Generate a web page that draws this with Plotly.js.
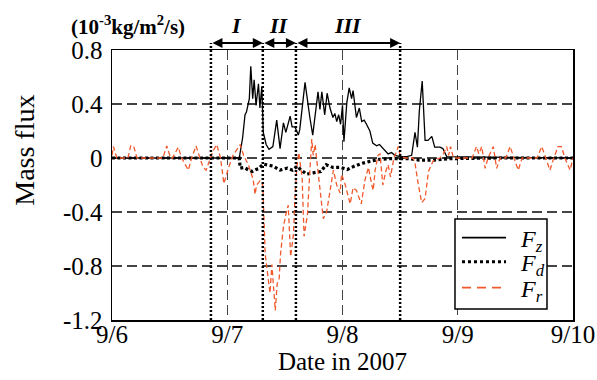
<!DOCTYPE html>
<html>
<head>
<meta charset="utf-8">
<script src="https://cdn.plot.ly/plotly-3.0.1.min.js"></script>
<style>html,body{margin:0;padding:0;background:#fff;}#chart{width:597px;height:380px;}</style>
</head>
<body>
<div id="chart"></div>
<script>
// ---- tick labels / categories ----
const dayTickHours = [0, 24, 48, 72, 96];
const dayTickLabels = ['9/6', '9/7', '9/8', '9/9', '9/10'];
const fluxTicks = [-1.2, -0.8, -0.4, 0, 0.4, 0.8];
const fluxTickLabels = ['-1.2', '-0.8', '-0.4', '0', '0.4', '0.8'];

// ---- period boundaries (hours after 9/6 00:00) and labels ----
const periodBounds = [20.6, 31.4, 38.3, 60.0];
const periodLabels = ['I', 'II', 'III'];

// ---- series names ----
const seriesNames = ['<i>F</i><sub><i>z</i></sub>', '<i>F</i><sub><i>d</i></sub>', '<i>F</i><sub><i>r</i></sub>'];

// ---- F_z (hours, value) ----
const hoursZ = [0, 26.5, 27.2, 27.7, 28.0, 28.6, 28.9, 29.3, 29.6, 30.0,
  30.5, 30.8, 31.2, 31.5, 32.1, 32.7, 33.5, 34.3, 35.0, 35.7,
  36.2, 37.1, 37.5, 38.1, 38.8, 39.1, 40.2, 40.6, 41.2, 41.8,
  42.9, 43.3, 43.7, 44.3, 44.8, 45.4, 46.0, 46.4, 46.8, 47.2,
  47.6, 48.0, 48.3, 48.9, 49.4, 49.9, 50.2, 50.9, 51.5, 52.0,
  52.5, 53.0, 53.7, 54.3, 55.1, 55.7, 56.2, 56.8, 57.5, 58.2,
  58.9, 60.0, 61.4, 62.4, 63.1, 63.6, 64.0, 64.6, 65.2, 65.8,
  66.6, 67.2, 68.3, 68.9, 69.7, 96];
const fluxZ = [0, 0, 0.15, 0.32, 0.34, 0.44, 0.68, 0.44, 0.58, 0.39,
  0.55, 0.37, 0.53, 0.19, 0.10, 0.065, 0.085, 0.28, 0.07, 0.26,
  0.19, 0.31, 0.23, 0.23, 0.17, 0.21, 0.56, 0.45, 0.30, 0.17,
  0.49, 0.36, 0.49, 0.32, 0.48, 0.37, 0.30, 0.33, 0.27, 0.32,
  0.25, 0.39, 0.12, 0.41, 0.52, 0.44, 0.50, 0.30, 0.37, 0.27,
  0.28, 0.25, 0.20, 0.11, 0.09, 0.10, 0.08, 0.05, 0.03, 0.04,
  0.02, 0.01, 0.01, 0.02, 0.19, 0.08, 0.35, 0.57, 0.13, 0.13,
  0.16, 0.08, 0.08, 0.07, 0.01, 0.0];

// ---- F_d ----
const hoursD = [0, 26.5, 26.7, 27.5, 28.5, 29.2, 30.0, 30.5, 31.5, 32.5,
  33.5, 35.0, 36.5, 37.6, 38.6, 39.1, 40.5, 41.9, 43.5, 44.6,
  46.0, 47.6, 49.0, 50.5, 52.0, 53.7, 55.7, 58.0, 62.0, 64.0,
  67.0, 70.0, 80.0, 96];
const fluxD = [0, 0, -0.075, -0.07, -0.09, -0.10, -0.085, -0.08, -0.045, -0.05,
  -0.06, -0.09, -0.075, -0.09, -0.06, -0.08, -0.12, -0.11, -0.10, -0.05,
  -0.07, -0.07, -0.085, -0.06, -0.04, -0.025, -0.01, -0.005, -0.005, -0.015,
  -0.015, -0.005, 0, 0];

// ---- F_r ----
const hoursR = [0, 0.3, 1.0, 3.3, 3.9, 4.5, 5.2, 10.6, 11.4, 12.2,
  12.6, 13.8, 14.5, 15.9, 16.6, 17.5, 18.3, 19.0, 19.6, 20.4,
  21.0, 21.8, 22.6, 23.3, 24.2, 25.2, 26.2, 26.7, 27.4, 28.4,
  29.4, 29.8, 30.1, 30.8, 31.4, 31.9, 32.2, 32.9, 33.3, 33.7,
  34.0, 34.4, 34.8, 35.1, 35.7, 36.2, 36.7, 37.2, 37.8, 38.1,
  38.5, 38.9, 39.6, 40.0, 40.7, 41.2, 41.6, 41.9, 42.3, 42.9,
  44.0, 44.7, 45.7, 46.1, 46.8, 47.5, 47.8, 48.5, 49.6, 50.2,
  50.9, 51.9, 52.7, 53.4, 54.1, 54.4, 54.8, 55.4, 55.8, 56.4,
  57.0, 57.5, 58.0, 58.7, 59.3, 59.6, 60.0, 61.0, 62.7, 63.1,
  63.8, 64.5, 65.2, 65.9, 66.9, 68.3, 69.0, 69.7, 70.1, 70.5,
  71.1, 75.0, 75.9, 76.4, 77.0, 77.7, 78.3, 79.4, 80.1, 80.8,
  82.0, 82.9, 83.7, 84.6, 85.4, 88.5, 89.5, 90.4, 91.2, 92.0,
  92.9, 93.6, 94.3, 95.4, 96];
const fluxR = [0.02, 0.085, 0, 0, 0.09, 0.09, 0, 0, 0.09, 0,
  0, 0.08, 0, -0.09, 0, 0.09, 0, -0.07, -0.09, 0,
  0.05, 0.1, 0, -0.19, -0.08, 0.02, 0.07, 0.1, 0.02, -0.05,
  -0.16, -0.27, -0.2, -0.17, -0.2, -0.71, -0.8, -1.0, -0.79, -0.95,
  -1.13, -0.93, -0.9, -0.71, -0.51, -0.42, -0.35, -0.73, -0.56, -0.29,
  -0.06, 0.04, -0.15, -0.58, -0.42, -0.1, 0.14, 0.02, 0.1, -0.1,
  -0.45, -0.4, -0.16, -0.09, -0.2, -0.26, -0.12, -0.19, -0.34, -0.22,
  -0.24, -0.34, -0.16, -0.07, -0.2, -0.24, -0.09, 0.02, 0.03, -0.2,
  -0.1, -0.05, -0.14, 0.0, 0.05, 0.085, 0.02, 0, 0, -0.04,
  -0.2, -0.33, -0.3, -0.1, -0.02, 0, 0.03, 0.085, 0.02, 0.085,
  0, 0, 0.085, 0.03, 0.085, -0.077, 0, 0.085, -0.077, 0,
  0, 0.085, 0, -0.09, 0, 0, 0.085, 0, -0.09, 0,
  0.085, 0.085, 0, -0.09, 0];

const FONT = 'Liberation Serif, Times New Roman, serif';
const RED = '#f1592d';
const lineStyles = [
  {color: '#000', width: 1.3},
  {color: '#000', width: 3.2, dash: '3px,2.5px'},
  {color: RED, width: 1.3, dash: '5px,3px'}
];
const legendStyles = [
  {color: '#000', width: 1.8},
  {color: '#000', width: 3, dash: '3px,3px'},
  {color: RED, width: 1.8, dash: '9px,6px'}
];

const traces = [
  {x: hoursZ, y: fluxZ, type: 'scatter', mode: 'lines', name: seriesNames[0], line: lineStyles[0]},
  {x: hoursD, y: fluxD, type: 'scatter', mode: 'lines', name: seriesNames[1], line: lineStyles[1]},
  {x: hoursR, y: fluxR, type: 'scatter', mode: 'lines', name: seriesNames[2], line: lineStyles[2]}
];

const yTop = 1.026; // arrow / dotted line top (paper coords)
const shapes = periodBounds.map(b => ({
  type: 'line', xref: 'x', yref: 'paper', x0: b, x1: b, y0: 0, y1: yTop,
  line: {color: '#000', width: 2.5, dash: '2px,2px'}, layer: 'above'
}));

// legend box (drawn by hand to match the compact original)
const legBox = {x0: 0.744, x1: 0.9436, y0: 0.0407, y1: 0.374};
const legRowsY = [0.3048, 0.2159, 0.1196];
shapes.push({type: 'rect', xref: 'paper', yref: 'paper', x0: legBox.x0, x1: legBox.x1,
  y0: legBox.y0, y1: legBox.y1, fillcolor: '#fff', line: {color: '#000', width: 1.5}, layer: 'above'});

const annotations = [];
for (let i = 0; i < 3; i++) {
  shapes.push({type: 'line', xref: 'paper', yref: 'paper', x0: 0.7592, x1: 0.8547,
    y0: legRowsY[i], y1: legRowsY[i], line: legendStyles[i], layer: 'above'});
  annotations.push({x: 0.880, y: legRowsY[i] - 0.012, xref: 'paper', yref: 'paper',
    xanchor: 'left', yanchor: 'middle', showarrow: false, text: seriesNames[i],
    font: {family: FONT, size: 24, color: '#000'}});
}

for (let i = 0; i < periodLabels.length; i++) {
  annotations.push({
    x: periodBounds[i + 1], y: yTop, xref: 'x', yref: 'paper',
    ax: periodBounds[i], ay: 0, axref: 'x', ayref: 'pixel',
    text: '', showarrow: true, arrowside: 'end+start', arrowhead: 2,
    arrowsize: 1, arrowwidth: 2, arrowcolor: '#000', standoff: 0, startstandoff: 0
  });
  annotations.push({
    x: (periodBounds[i] + periodBounds[i + 1]) / 2, y: 1.089, xref: 'x', yref: 'paper',
    xanchor: 'center', yanchor: 'middle',
    text: '<b><i>' + periodLabels[i] + '</i></b>', showarrow: false,
    font: {family: FONT, size: 22, color: '#000'}
  });
}
annotations.push({
  x: 0.035, y: 1.089, xref: 'paper', yref: 'paper', xanchor: 'center', yanchor: 'middle', showarrow: false,
  text: '<b>(10<sup>-3</sup>kg/m<sup>2</sup>/s)</b>',
  font: {family: FONT, size: 21, color: '#000'}
});
// y-axis label placed as in the original (above the plot centre)
annotations.push({
  x: -0.189, y: 0.63, xref: 'paper', yref: 'paper', xanchor: 'center', yanchor: 'middle',
  textangle: -90, showarrow: false, text: 'Mass flux',
  font: {family: FONT, size: 28, color: '#000'}
});

const layout = {
  width: 597, height: 380,
  margin: {l: 112, r: 24, t: 50, b: 60},
  paper_bgcolor: '#fff', plot_bgcolor: '#fff',
  font: {family: FONT, color: '#000'},
  showlegend: false,
  xaxis: {
    range: [0, 96], tickvals: dayTickHours, ticktext: dayTickLabels,
    showgrid: true, gridcolor: '#444', gridwidth: 1.2, griddash: '10px,5px',
    zeroline: false, showline: true, linecolor: '#000', linewidth: 1.5, mirror: true,
    ticks: '', ticklabelstandoff: -9, tickfont: {family: FONT, size: 25, color: '#000'},
    title: {text: 'Date in 2007', font: {family: FONT, size: 25, color: '#000'}, standoff: 4}
  },
  yaxis: {
    range: [-1.2, 0.8], tickvals: fluxTicks, ticktext: fluxTickLabels,
    showgrid: true, gridcolor: '#444', gridwidth: 1.2, griddash: '10px,5px',
    zeroline: false, showline: true, linecolor: '#000', linewidth: 1.5, mirror: true,
    ticks: '', ticklabelstandoff: 3, tickfont: {family: FONT, size: 25, color: '#000'}
  },
  shapes: shapes,
  annotations: annotations
};

Plotly.newPlot('chart', traces, layout, {staticPlot: true, displayModeBar: false});
</script>
</body>
</html>
